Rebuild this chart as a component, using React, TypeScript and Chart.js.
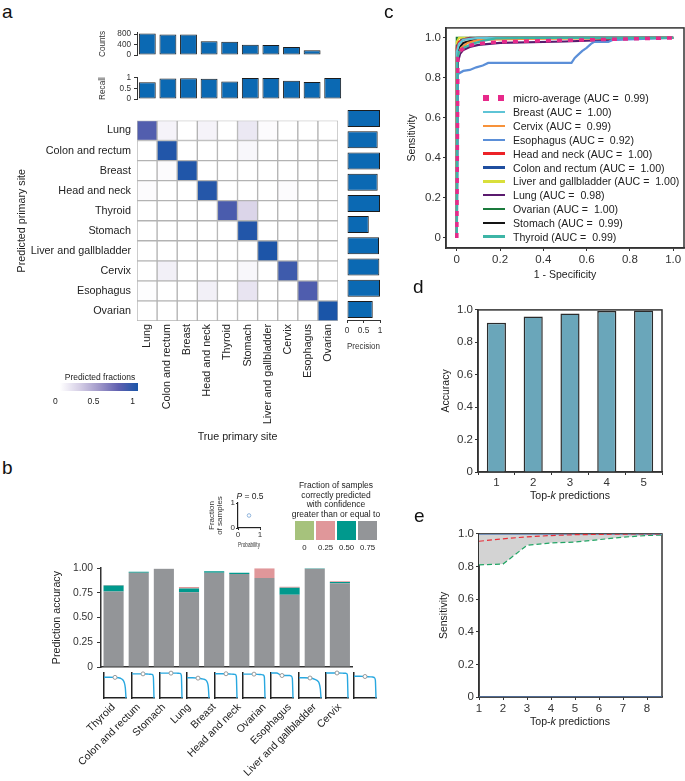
import React, { useEffect, useRef } from 'react';
import { Chart, registerables } from 'chart.js';

Chart.register(...registerables);

const FONT = '"Liberation Sans", Arial, Helvetica, sans-serif';
Chart.defaults.font.family = FONT;
Chart.defaults.color = '#333';

// ===================== Panel a data =====================
const sites = ['Lung', 'Colon and rectum', 'Breast', 'Head and neck', 'Thyroid', 'Stomach', 'Liver and gallbladder', 'Cervix', 'Esophagus', 'Ovarian'];
const countValues = [830, 790, 790, 530, 510, 400, 390, 310, 190, 20];
const countTicks = [0, 400, 800];
const recallValues = [0.8, 0.97, 0.98, 0.96, 0.83, 1.0, 1.0, 0.87, 0.81, 1.0];
const recallTicks = [0, 0.5, 1];
const recallTickLabels = ['0', '0.5', '1'];
const precisionValues = [1.0, 0.93, 1.0, 0.93, 1.0, 0.66, 0.97, 0.98, 1.0, 0.78];
const precisionTicks = [0, 0.5, 1];
const precisionTickLabels = ['0', '0.5', '1'];
// rows = predicted site, columns = true site
const confusion = [
  [0.80, 0.06, 0, 0.06, 0, 0.12, 0.02, 0, 0, 0],
  [0, 0.97, 0, 0, 0, 0.04, 0, 0, 0, 0],
  [0, 0.02, 0.98, 0, 0, 0, 0, 0, 0, 0],
  [0.02, 0, 0, 0.96, 0, 0, 0, 0.02, 0, 0],
  [0, 0, 0, 0, 0.83, 0.22, 0, 0, 0, 0],
  [0, 0, 0, 0, 0, 0.97, 0, 0, 0, 0],
  [0, 0, 0, 0, 0, 0, 0.99, 0, 0, 0],
  [0, 0.08, 0, 0, 0, 0.04, 0, 0.87, 0, 0],
  [0.01, 0, 0, 0.08, 0, 0.14, 0, 0, 0.81, 0],
  [0, 0, 0, 0, 0, 0, 0, 0, 0, 1.0],
];
const fractionLabels = ['0', '0.5', '1'];

// ===================== Panel b data =====================
const bSites = ['Thyroid', 'Colon and rectum', 'Stomach', 'Lung', 'Breast', 'Head and neck', 'Ovarian', 'Esophagus', 'Liver and gallbladder', 'Cervix'];
const conf075 = [0.765, 0.955, 0.995, 0.757, 0.955, 0.94, 0.9, 0.732, 0.995, 0.847];
const conf050 = [0.06, 0.01, 0, 0.038, 0.015, 0.015, 0, 0.07, 0.005, 0.012];
const conf025 = [0.005, 0, 0, 0.015, 0, 0, 0.1, 0.01, 0, 0.008];
const conf000 = [0, 0, 0, 0, 0, 0, 0, 0, 0, 0];
const confLevels = ['0', '0.25', '0.50', '0.75'];
const bTicks = [0, 0.25, 0.5, 0.75, 1];
const bTickLabels = ['0', '0.25', '0.50', '0.75', '1.00'];
const miniP = [0, 0.25, 0.5, 0.75, 0.85, 0.92, 0.97, 1];
const miniThyroid = [0.83, 0.83, 0.825, 0.79, 0.73, 0.62, 0.4, 0];
const miniColon = [0.965, 0.965, 0.965, 0.955, 0.95, 0.94, 0.85, 0];
const miniStomach = [0.995, 0.995, 0.995, 0.995, 0.99, 0.98, 0.9, 0];
const miniLung = [0.81, 0.81, 0.795, 0.757, 0.72, 0.63, 0.42, 0];
const miniBreast = [0.97, 0.97, 0.97, 0.955, 0.95, 0.94, 0.86, 0];
const miniHeadNeck = [0.955, 0.955, 0.955, 0.94, 0.935, 0.92, 0.84, 0];
const miniOvarian = [1.0, 1.0, 0.9, 0.9, 0.9, 0.88, 0.78, 0];
const miniEsophagus = [0.81, 0.81, 0.8, 0.732, 0.68, 0.58, 0.36, 0];
const miniLiver = [1.0, 1.0, 1.0, 0.995, 0.99, 0.985, 0.92, 0];
const miniCervix = [0.87, 0.87, 0.86, 0.847, 0.84, 0.82, 0.72, 0];
const miniCurves = [miniThyroid, miniColon, miniStomach, miniLung, miniBreast, miniHeadNeck, miniOvarian, miniEsophagus, miniLiver, miniCervix];
const insetProbability = [0.5];
const insetFraction = [0.5];
const insetTicks = [0, 1];

// ===================== Panel c data =====================
const rocNames = ['micro-average', 'Breast', 'Cervix', 'Esophagus', 'Head and neck', 'Colon and rectum', 'Liver and gallbladder', 'Lung', 'Ovarian', 'Stomach', 'Thyroid'];
const rocAUC = [0.99, 1.0, 0.99, 0.92, 1.0, 1.0, 1.0, 0.98, 1.0, 0.99, 0.99];
const rocMicro = [[0, 0], [0.005, 0.9], [0.02, 0.94], [0.05, 0.96], [0.1, 0.972], [0.2, 0.98], [0.4, 0.986], [0.6, 0.99], [0.8, 0.995], [1, 1]];
const rocBreast = [[0, 0], [0, 0.93], [0.01, 0.97], [0.03, 0.99], [0.1, 1], [1, 1]];
const rocCervix = [[0, 0], [0, 0.9], [0.02, 0.95], [0.05, 0.975], [0.1, 0.99], [0.3, 0.995], [1, 1]];
const rocEsophagus = [[0, 0], [0.005, 0.82], [0.03, 0.835], [0.06, 0.84], [0.09, 0.853], [0.12, 0.862], [0.145, 0.875], [0.53, 0.875], [0.545, 0.9], [0.56, 0.915], [0.58, 0.935], [0.6, 0.95], [0.62, 0.97], [0.635, 0.98], [0.7, 0.98], [0.72, 0.99], [1, 1]];
const rocHeadNeck = [[0, 0], [0, 0.95], [0.01, 0.98], [0.04, 0.995], [0.1, 1], [1, 1]];
const rocColon = [[0, 0], [0, 0.96], [0.02, 0.99], [0.06, 1], [1, 1]];
const rocLiver = [[0, 0], [0, 0.98], [0.01, 1], [1, 1]];
const rocLung = [[0, 0], [0.005, 0.88], [0.015, 0.92], [0.03, 0.94], [0.06, 0.955], [0.1, 0.965], [0.2, 0.975], [0.5, 0.982], [0.7, 0.99], [0.85, 1], [1, 1]];
const rocOvarian = [[0, 0], [0, 1], [1, 1]];
const rocStomach = [[0, 0], [0, 0.9], [0.01, 0.95], [0.03, 0.975], [0.08, 0.992], [0.15, 1], [1, 1]];
const rocThyroid = [[0, 0], [0.003, 0.9], [0.01, 0.93], [0.03, 0.95], [0.07, 0.97], [0.12, 0.985], [0.18, 0.998], [0.3, 1], [1, 1]];
const rocCurves = [rocMicro, rocBreast, rocCervix, rocEsophagus, rocHeadNeck, rocColon, rocLiver, rocLung, rocOvarian, rocStomach, rocThyroid];
const rocTicks = [0, 0.2, 0.4, 0.6, 0.8, 1.0];
const rocTickLabels = ['0', '0.2', '0.4', '0.6', '0.8', '1.0'];

// ===================== Panel d data =====================
const topK = ['1', '2', '3', '4', '5'];
const topKAccuracy = [0.92, 0.96, 0.978, 0.993, 0.997];
const unitTicks = [0, 0.2, 0.4, 0.6, 0.8, 1.0];
const unitTickLabels = ['0', '0.2', '0.4', '0.6', '0.8', '1.0'];

// ===================== Panel e data =====================
const eK = [1, 2, 3, 4, 5, 6, 7, 8, 9];
const eTicks = [1, 2, 3, 4, 5, 6, 7, 8];
const eHigh = [1, 1, 1, 1, 1, 1, 1, 1, 1];
const eLow = [0.81, 0.815, 0.93, 0.945, 0.95, 0.965, 0.98, 0.99, 0.995];
const eMid = [0.955, 0.97, 0.982, 0.99, 0.995, 0.997, 0.999, 1, 1];
const eZero = [0, 0, 0, 0, 0, 0, 0, 0, 0];

// ===================== styles =====================
const rocColors = ['#e7298a', '#5ec4d6', '#f7923a', '#5b8fd8', '#ec2227', '#1f4e9f', '#d9df3b', '#5a1a6e', '#1a7a3c', '#141414', '#3db5a6'];
const confColors = ['#a6c27c', '#e0979a', '#00998d', '#939598'];
const cmapStops: [number, number[]][] = [
  [0, [255, 255, 255]],
  [0.25, [214, 207, 230]],
  [0.5, [160, 152, 201]],
  [0.75, [96, 96, 176]],
  [1, [26, 85, 168]],
];
function cmap(v: number) {
  for (let i = 1; i < cmapStops.length; i++) {
    const [p1, c1] = cmapStops[i];
    const [p0, c0] = cmapStops[i - 1];
    if (v <= p1) {
      const t = (v - p0) / (p1 - p0);
      const c = c0.map((a, k) => Math.round(a + (c1[k] - a) * t));
      return `rgb(${c[0]},${c[1]},${c[2]})`;
    }
  }
  const c = cmapStops[cmapStops.length - 1][1];
  return `rgb(${c[0]},${c[1]},${c[2]})`;
}
const cmapGradient = `linear-gradient(to right, ${cmapStops.map(([p]) => `${cmap(p)} ${p * 100}%`).join(', ')})`;

// ===================== helpers =====================
type Area = { l: number; t: number; r: number; b: number };
type Mg = { left: number; top: number; right: number; bottom: number };

const setTicks = (vals: number[]) => (scale: any) => {
  scale.ticks = vals.map((v) => ({ value: v }));
};
const fixW = (w: number) => (s: any) => { s.width = w; };
const fixH = (h: number) => (s: any) => { s.height = h; };

const framePlugin = (color: string, width: number) => ({
  id: 'frame',
  beforeDatasetsDraw(chart: any) {
    const { ctx, chartArea: a } = chart;
    ctx.save();
    ctx.strokeStyle = color;
    ctx.lineWidth = width;
    ctx.strokeRect(a.left, a.top, a.right - a.left, a.bottom - a.top);
    ctx.restore();
  },
});

const baseOpts = (pad: any) => ({
  responsive: false,
  animation: false,
  layout: { padding: pad, autoPadding: false },
  plugins: { legend: { display: false }, tooltip: { enabled: false } },
});

function ChartBox({ area, mg, make }: { area: Area; mg: Mg; make: (mg: Mg) => any }) {
  const ref = useRef<HTMLCanvasElement | null>(null);
  const w = Math.round(area.r - area.l + mg.left + mg.right);
  const h = Math.round(area.b - area.t + mg.top + mg.bottom);
  useEffect(() => {
    const chart = new Chart(ref.current as HTMLCanvasElement, make(mg));
    return () => chart.destroy();
  }, []);
  return (
    <canvas
      ref={ref}
      width={w}
      height={h}
      style={{ position: 'absolute', left: area.l - mg.left, top: area.t - mg.top, width: w, height: h }}
    />
  );
}

function Txt({ x, y, size, children, align = 'center', rot = 0, color = '#222', style = {} }: any) {
  const tx = align === 'center' ? '-50%' : align === 'right' ? '-100%' : '0';
  return (
    <div
      style={{
        position: 'absolute', left: x, top: y, fontSize: size, lineHeight: 1, whiteSpace: 'pre', color,
        fontFamily: FONT, transform: `translate(${tx},-50%) rotate(${rot}deg)`, ...style,
      }}
    >
      {children}
    </div>
  );
}

// ===================== chart configs =====================
const smallAxisY = (w: number, ticks: number[], labels: string[], title: string, max: number) => ({
  min: 0, max,
  afterBuildTicks: setTicks(ticks),
  afterFit: fixW(w),
  grid: { drawOnChartArea: false, tickLength: 3, color: '#333' },
  border: { color: '#333', width: 1 },
  ticks: { padding: 3, font: { size: 8.2 }, autoSkip: false, callback: (_v: any, i: number) => labels[i] },
  title: { display: true, text: title, font: { size: 8.2 }, padding: { top: 1, bottom: 0 } },
});

const makeCounts = (mg: Mg) => ({
  type: 'bar',
  data: {
    labels: sites,
    datasets: [{ data: countValues, backgroundColor: '#0b69b3', borderColor: '#1c1c1c', borderWidth: 1, borderSkipped: false, barPercentage: 0.82, categoryPercentage: 1 }],
  },
  options: {
    ...baseOpts({ left: 0, top: mg.top, right: mg.right, bottom: mg.bottom }),
    scales: {
      x: { display: false },
      y: smallAxisY(mg.left, countTicks, countTicks.map(String), 'Counts', 850),
    },
  },
});

const makeRecall = (mg: Mg) => ({
  type: 'bar',
  data: {
    labels: sites,
    datasets: [{ data: recallValues, backgroundColor: '#0b69b3', borderColor: '#1c1c1c', borderWidth: 1, borderSkipped: false, barPercentage: 0.82, categoryPercentage: 1 }],
  },
  options: {
    ...baseOpts({ left: 0, top: mg.top, right: mg.right, bottom: mg.bottom }),
    scales: {
      x: { display: false },
      y: smallAxisY(mg.left, recallTicks, recallTickLabels, 'Recall', 1),
    },
  },
});

const makeHeatmap = (mg: Mg) => ({
  type: 'bar',
  data: {
    labels: sites,
    datasets: confusion.map((row, r) => ({
      label: sites[r],
      data: row.map(() => 1),
      backgroundColor: row.map((v) => cmap(v)),
      borderColor: '#b3b3b3',
      borderWidth: 1,
      borderSkipped: false,
      barPercentage: 1,
      categoryPercentage: 1,
    })),
  },
  options: {
    ...baseOpts({ left: 0, top: mg.top, right: mg.right, bottom: 0 }),
    scales: {
      x: {
        stacked: true,
        afterFit: fixH(mg.bottom),
        grid: { display: false, drawTicks: false },
        border: { display: false },
        ticks: { minRotation: 90, maxRotation: 90, autoSkip: false, padding: 3, color: '#222', font: { size: 10.8 } },
        title: { display: true, text: 'True primary site', color: '#222', font: { size: 10.7 }, padding: 0 },
      },
      y: {
        stacked: true, reverse: true, min: 0, max: 10,
        afterBuildTicks: setTicks(sites.map((_, i) => i + 0.5)),
        afterFit: fixW(mg.left),
        grid: { display: false, drawTicks: false },
        border: { display: false },
        ticks: { autoSkip: false, padding: 6, color: '#222', font: { size: 10.8 }, callback: (_v: any, i: number) => sites[i] },
        title: { display: true, text: 'Predicted primary site', color: '#222', font: { size: 10.7 }, padding: { top: 1, bottom: 0 } },
      },
    },
  },
});

const makePrecision = (mg: Mg) => ({
  type: 'bar',
  data: {
    labels: sites,
    datasets: [{ data: precisionValues, backgroundColor: '#0b69b3', borderColor: '#1c1c1c', borderWidth: 1, borderSkipped: false, barPercentage: 0.8, categoryPercentage: 1 }],
  },
  options: {
    ...baseOpts({ left: mg.left, top: mg.top, right: mg.right, bottom: 0 }),
    indexAxis: 'y',
    scales: {
      y: { display: false },
      x: {
        min: 0, max: 1,
        afterBuildTicks: setTicks(precisionTicks),
        afterFit: fixH(mg.bottom),
        grid: { drawOnChartArea: false, tickLength: 3, color: '#333' },
        border: { color: '#333', width: 1 },
        ticks: { padding: 3, minRotation: 0, maxRotation: 0, font: { size: 8.3 }, autoSkip: false, callback: (_v: any, i: number) => precisionTickLabels[i] },
        title: { display: true, text: 'Precision', font: { size: 8.3 }, padding: 0 },
      },
    },
  },
});

const makeAccuracyB = (mg: Mg) => {
  const series = [conf075, conf050, conf025, conf000];
  const colorOrder = [3, 2, 1, 0];
  return {
    type: 'bar',
    data: {
      labels: bSites,
      datasets: series.map((s, i) => ({
        label: confLevels[colorOrder[i]],
        data: s,
        backgroundColor: confColors[colorOrder[i]],
        borderWidth: 0,
        barPercentage: 0.8,
        categoryPercentage: 1,
      })),
    },
    options: {
      ...baseOpts({ left: 0, top: mg.top, right: mg.right, bottom: 0 }),
      scales: {
        x: {
          stacked: true,
          afterFit: fixH(mg.bottom),
          grid: { display: false, drawTicks: false },
          border: { color: '#333', width: 1.5 },
          ticks: { minRotation: 45, maxRotation: 45, autoSkip: false, padding: 34, color: '#222', font: { size: 10.5 } },
        },
        y: {
          stacked: true, min: 0, max: 1,
          afterBuildTicks: setTicks(bTicks),
          afterFit: fixW(mg.left),
          grid: { drawOnChartArea: false, tickLength: 4, color: '#333' },
          border: { color: '#333', width: 1.5 },
          ticks: { padding: 4, font: { size: 10.3 }, autoSkip: false, callback: (_v: any, i: number) => bTickLabels[i] },
          title: { display: true, text: 'Prediction accuracy', color: '#222', font: { size: 10.7 }, padding: 0 },
        },
      },
    },
  };
};

const makeMini = (curve: number[]) => (mg: Mg) => ({
  type: 'line',
  data: {
    datasets: [{
      data: miniP.map((p, j) => ({ x: p, y: curve[j] })),
      borderColor: '#29a8e0',
      borderWidth: 1.4,
      cubicInterpolationMode: 'monotone',
      pointRadius: (c: any) => (c.raw && c.raw.x === 0.5 ? 2 : 0),
      pointBackgroundColor: '#ffffff',
      pointBorderColor: '#9a9a9a',
      pointBorderWidth: 1,
      clip: 4,
    }],
  },
  options: {
    ...baseOpts({ left: mg.left, top: mg.top, right: mg.right, bottom: mg.bottom }),
    scales: {
      x: { type: 'linear', min: 0, max: 1, afterFit: fixH(0), ticks: { display: false }, grid: { display: false }, border: { color: '#222', width: 1.5 } },
      y: { min: 0, max: 1, afterFit: fixW(0), ticks: { display: false }, grid: { display: false }, border: { color: '#222', width: 1.5 } },
    },
  },
});

const makeInset = (mg: Mg) => ({
  type: 'scatter',
  data: {
    datasets: [{
      data: insetProbability.map((p, i) => ({ x: p, y: insetFraction[i] })),
      pointRadius: 1.8,
      pointBackgroundColor: '#ffffff',
      pointBorderColor: '#8fb4dc',
      pointBorderWidth: 1,
    }],
  },
  options: {
    ...baseOpts({ left: 0, top: mg.top, right: mg.right, bottom: 0 }),
    scales: {
      x: {
        type: 'linear', min: 0, max: 1,
        afterBuildTicks: setTicks(insetTicks),
        afterFit: fixH(mg.bottom),
        grid: { drawOnChartArea: false, tickLength: 2, color: '#222' },
        border: { color: '#222', width: 1.2 },
        ticks: { padding: 0, minRotation: 0, maxRotation: 0, font: { size: 8 }, autoSkip: false, callback: (_v: any, i: number) => String(insetTicks[i]) },
        title: { display: true, text: 'Probability', font: { size: 8 }, padding: 0 },
      },
      y: {
        min: 0, max: 1,
        afterBuildTicks: setTicks(insetTicks),
        afterFit: fixW(mg.left),
        grid: { drawOnChartArea: false, tickLength: 2, color: '#222' },
        border: { color: '#222', width: 1.2 },
        ticks: { padding: 1, font: { size: 8 }, autoSkip: false, callback: (_v: any, i: number) => String(insetTicks[i]) },
        title: { display: true, text: ['Fraction', 'of samples'], font: { size: 8, lineHeight: 0.95 }, padding: 0 },
      },
    },
  },
});

const frameAxis = (fit: any, ticks: number[], labels: string[], title: string | null, extra: any = {}) => ({
  ...extra,
  afterBuildTicks: setTicks(ticks),
  ...fit,
  grid: { drawOnChartArea: false, tickLength: 3, color: '#333' },
  border: { color: '#333', width: 1.5 },
  ticks: { padding: 2, minRotation: 0, maxRotation: 0, font: { size: 11.5 }, autoSkip: false, callback: (_v: any, i: number) => labels[i] },
  title: title ? { display: true, text: title, color: '#222', font: { size: 10.5 }, padding: 0 } : { display: false },
});

const makeROC = (mg: Mg) => ({
  type: 'line',
  data: {
    datasets: rocCurves.map((curve, i) => ({
      label: rocNames[i],
      data: curve.map(([x, y]) => ({ x, y })),
      borderColor: rocColors[i],
      borderWidth: i === 0 ? 3.5 : 2.2,
      borderDash: i === 0 ? [5, 6] : [],
      pointRadius: 0,
      tension: 0,
      order: i === 0 ? -1 : i === 10 ? 0 : i === 3 ? 1 : 2,
    })),
  },
  plugins: [framePlugin('#333', 1.5)],
  options: {
    ...baseOpts({ left: 0, top: mg.top, right: mg.right, bottom: 0 }),
    scales: {
      x: frameAxis({ afterFit: fixH(mg.bottom) }, rocTicks, rocTickLabels, '1 - Specificity', { type: 'linear', min: -0.05, max: 1.05 }),
      y: frameAxis({ afterFit: fixW(mg.left) }, rocTicks, rocTickLabels, 'Sensitivity', { min: -0.05, max: 1.05 }),
    },
  },
});

const makeTopK = (mg: Mg) => ({
  type: 'bar',
  data: {
    labels: topK,
    datasets: [{ data: topKAccuracy, backgroundColor: '#6aa6ba', borderColor: '#2b2b2b', borderWidth: 1.5, barPercentage: 0.52, categoryPercentage: 1 }],
  },
  plugins: [framePlugin('#333', 1.5)],
  options: {
    ...baseOpts({ left: 0, top: mg.top, right: mg.right, bottom: 0 }),
    scales: {
      x: {
        afterFit: fixH(mg.bottom),
        grid: { drawOnChartArea: false, tickLength: 3, color: '#333' },
        border: { color: '#333', width: 1.5 },
        ticks: { padding: 1, font: { size: 11.5 } },
      },
      y: frameAxis({ afterFit: fixW(mg.left) }, unitTicks, unitTickLabels, 'Accuracy', { min: 0, max: 1 }),
    },
  },
});

const makeSens = (mg: Mg) => ({
  type: 'line',
  data: {
    datasets: [
      { data: eK.map((k, i) => ({ x: k, y: eHigh[i] })), borderColor: '#5b7fb5', borderWidth: 1.6, pointRadius: 0, order: 1 },
      { data: eK.map((k, i) => ({ x: k, y: eLow[i] })), borderColor: '#22a565', borderWidth: 1.2, borderDash: [5, 3], pointRadius: 0, fill: '-1', backgroundColor: '#d3d3d3', order: 2 },
      { data: eK.map((k, i) => ({ x: k, y: eMid[i] })), borderColor: '#e8303a', borderWidth: 1.2, borderDash: [5, 3], pointRadius: 0, order: 0 },
      { data: eK.map((k, i) => ({ x: k, y: eZero[i] })), borderColor: '#5b7fb5', borderWidth: 1.6, pointRadius: 0, order: 1 },
    ],
  },
  plugins: [framePlugin('#333', 1.5)],
  options: {
    ...baseOpts({ left: 0, top: mg.top, right: mg.right, bottom: 0 }),
    scales: {
      x: frameAxis({ afterFit: fixH(mg.bottom) }, eTicks, eTicks.map(String), null, { type: 'linear', min: 1, max: 8.625 }),
      y: frameAxis({ afterFit: fixW(mg.left) }, unitTicks, unitTickLabels, 'Sensitivity', { min: 0, max: 1 }),
    },
  },
});

// ===================== layout =====================
const bArea: Area = { l: 101, t: 560, r: 379, b: 667 };
const miniAreas: Area[] = bSites.map((_, i) => {
  const c = bArea.l + ((bArea.r - bArea.l) * (i + 0.5)) / bSites.length;
  return { l: c - 11, t: 673, r: c + 11, b: 698 };
});
const legendRowY = rocNames.map((_, i) => 98.3 + i * 13.84);
const confBoxX = [295, 316, 337, 358];

export default function App() {
  return (
    <div style={{ position: 'absolute', left: 0, top: 0, width: 685, height: 781, background: '#fff', overflow: 'hidden', fontFamily: FONT }}>
      {/* Panel a */}
      <ChartBox area={{ l: 137, t: 27, r: 343, b: 61 }} mg={{ left: 40, top: 2, right: 2, bottom: 2 }} make={makeCounts} />
      <ChartBox area={{ l: 137, t: 72, r: 343, b: 105 }} mg={{ left: 40, top: 2, right: 2, bottom: 2 }} make={makeRecall} />
      <ChartBox area={{ l: 137, t: 109, r: 343, b: 321 }} mg={{ left: 122, top: 1, right: 1, bottom: 122 }} make={makeHeatmap} />
      <ChartBox area={{ l: 347, t: 108, r: 380, b: 320 }} mg={{ left: 6, top: 1, right: 8, bottom: 32 }} make={makePrecision} />

      {/* Panel b */}
      <ChartBox area={bArea} mg={{ left: 50, top: 2, right: 4, bottom: 114 }} make={makeAccuracyB} />
      {miniAreas.map((a, i) => (
        <ChartBox key={i} area={a} mg={{ left: 1, top: 3, right: 3, bottom: 1 }} make={makeMini(miniCurves[i])} />
      ))}
      <ChartBox area={{ l: 238, t: 503, r: 260, b: 528 }} mg={{ left: 30, top: 12, right: 6, bottom: 22 }} make={makeInset} />

      {/* Panel c */}
      <ChartBox area={{ l: 446, t: 21, r: 684, b: 248 }} mg={{ left: 40, top: 2, right: 1, bottom: 33 }} make={makeROC} />

      {/* Panel d */}
      <ChartBox area={{ l: 478, t: 305, r: 662, b: 472 }} mg={{ left: 38, top: 4, right: 2, bottom: 30 }} make={makeTopK} />

      {/* Panel e */}
      <ChartBox area={{ l: 479, t: 528, r: 662, b: 697 }} mg={{ left: 41, top: 3, right: 2, bottom: 31 }} make={makeSens} />

      {/* Panel letters */}
      <Txt x={2} y={11} size={19} align="left" color="#111">a</Txt>
      <Txt x={2} y={467} size={19} align="left" color="#111">b</Txt>
      <Txt x={384} y={11} size={19} align="left" color="#111">c</Txt>
      <Txt x={413} y={286} size={19} align="left" color="#111">d</Txt>
      <Txt x={414} y={515} size={19} align="left" color="#111">e</Txt>

      {/* Colour bar */}
      <Txt x={100} y={376.5} size={8.5}>Predicted fractions</Txt>
      <div style={{ position: 'absolute', left: 60, top: 383, width: 78, height: 8, background: cmapGradient }} />
      {fractionLabels.map((s, i) => (
        <Txt key={s} x={[55.3, 93.5, 132.5][i]} y={400.5} size={8.5}>{s}</Txt>
      ))}

      {/* Panel b legend */}
      <Txt x={250} y={496} size={8.5}><i>P</i> = 0.5</Txt>
      {['Fraction of samples', 'correctly predicted', 'with confidence', 'greater than or equal to'].map((s, i) => (
        <Txt key={s} x={336} y={485 + i * 9.7} size={8.5}>{s}</Txt>
      ))}
      {confLevels.map((lv, i) => (
        <React.Fragment key={lv}>
          <div style={{ position: 'absolute', left: confBoxX[i], top: 521, width: 19, height: 19, background: confColors[i] }} />
          <Txt x={confBoxX[i] + 9.5} y={548} size={7.8}>{lv}</Txt>
        </React.Fragment>
      ))}

      {/* Panel c legend */}
      {rocNames.map((n, i) => (
        <React.Fragment key={n}>
          {i === 0 ? (
            <div style={{ position: 'absolute', left: 483, top: legendRowY[i] - 3, width: 22, height: 6, background: `repeating-linear-gradient(90deg, ${rocColors[0]} 0 6px, transparent 6px 15px)` }} />
          ) : (
            <div style={{ position: 'absolute', left: 483, top: legendRowY[i] - 1.25, width: 22, height: 2.5, background: rocColors[i] }} />
          )}
          <Txt x={513} y={legendRowY[i]} size={10.6} align="left">{`${n} (AUC =  ${rocAUC[i].toFixed(2)})`}</Txt>
        </React.Fragment>
      ))}

      {/* Top-k axis titles */}
      <Txt x={570} y={495} size={10.6}>Top-<i>k</i> predictions</Txt>
      <Txt x={570} y={721} size={10.6}>Top-<i>k</i> predictions</Txt>
    </div>
  );
}
